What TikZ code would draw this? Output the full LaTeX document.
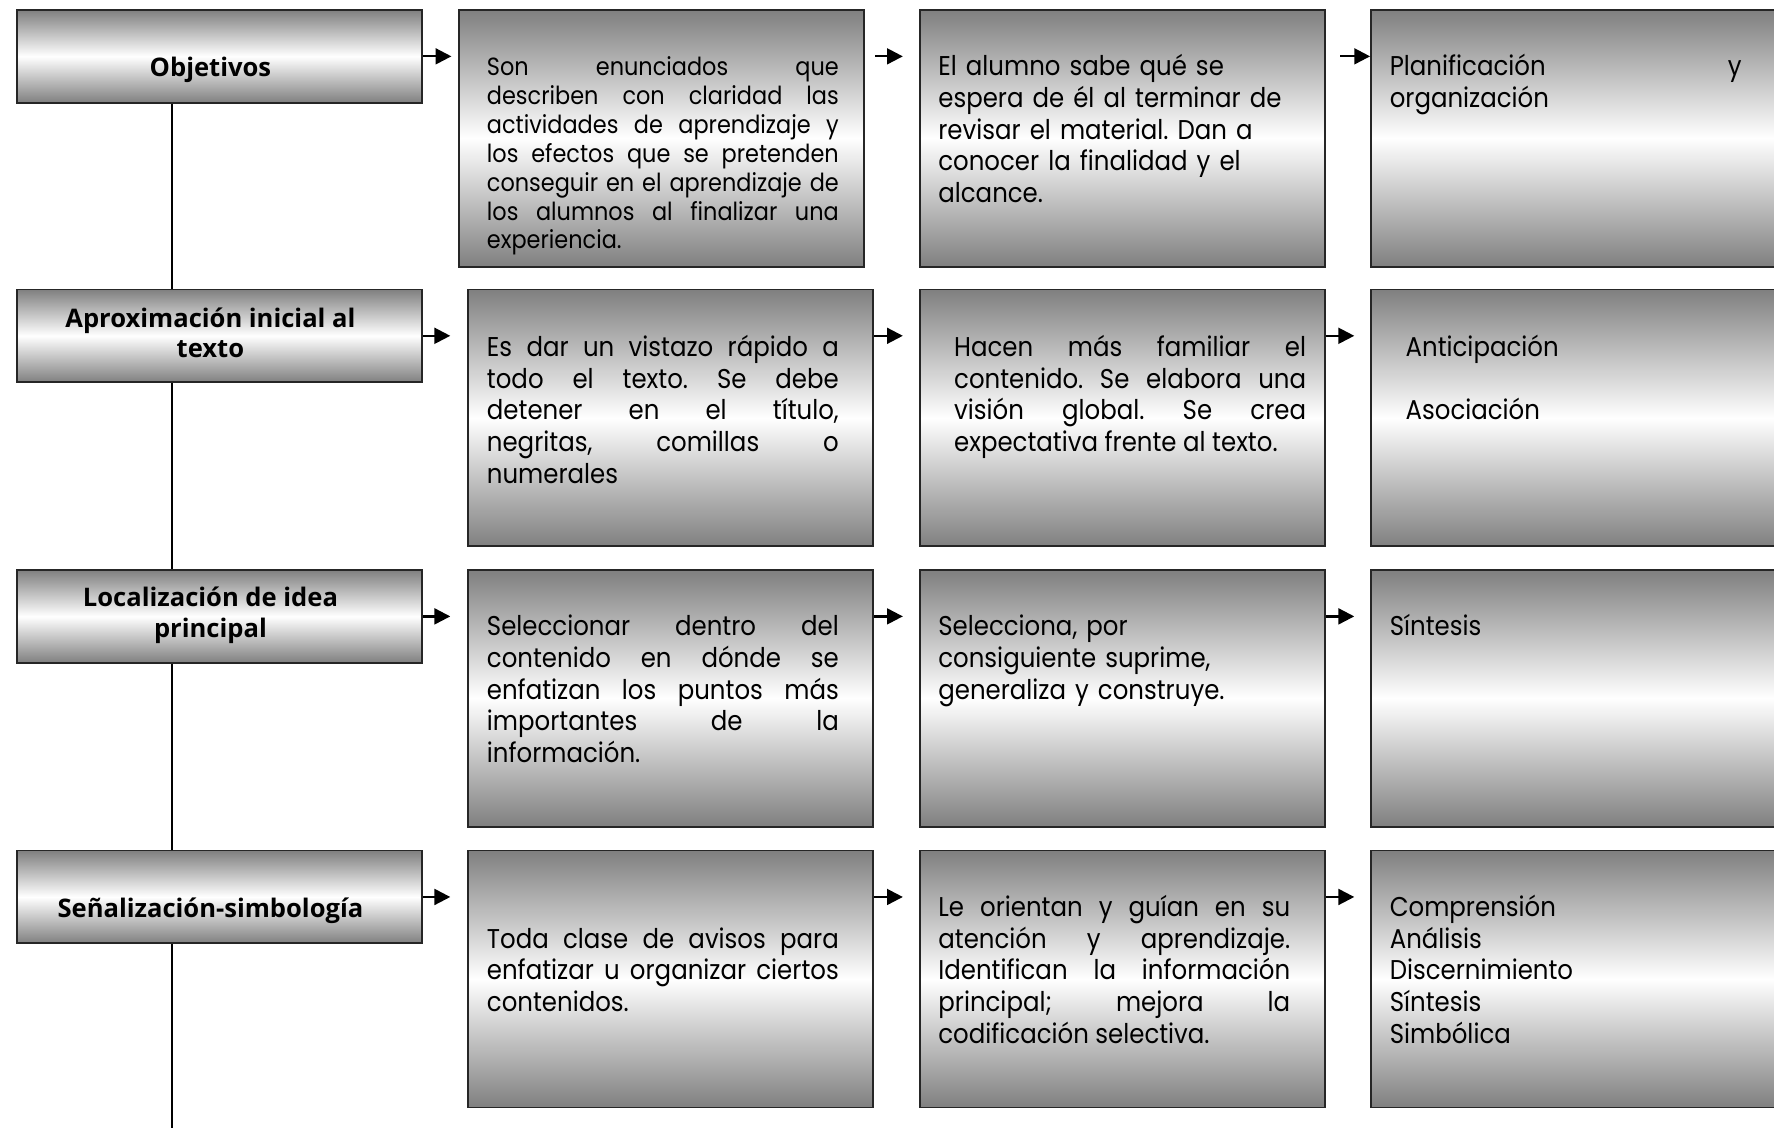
\documentclass[tikz,border=0pt]{standalone}
\usepackage{fontspec}
\setmainfont{Poppins}[FakeStretch=0.9]
\newfontfamily\headfont{Open Sans}
\usetikzlibrary{arrows.meta,positioning}
\tolerance=10000
\hbadness=10000
\hyphenpenalty=10000
\frenchspacing

\tikzset{
  caja/.style={draw=black!85, line width=0.8pt, rectangle, inner sep=0pt,
    top color=gray, bottom color=gray, middle color=white, minimum width=179pt},
  tema/.style={caja, minimum height=41pt, anchor=north west},
  desc/.style={caja, minimum height=113.5pt, anchor=north west},
  titulo/.style={font=\headfont\bfseries\fontsize{11.3}{13.5}\selectfont, align=center, inner sep=0pt},
  texto/.style={font=\fontsize{12}{14}\selectfont, anchor=base west, inner sep=0pt,
    text width=155.5pt, align=justify, yshift=-1pt},
  lista/.style={texto, text width=175pt, align=left},
  flecha/.style={-{Triangle[length=7pt,width=7pt]}, line width=1pt},
  eje/.style={line width=0.7pt}
}

\begin{document}
\begin{tikzpicture}[x=0.5pt,y=-0.5pt]
  \fill[white] (0,0) rectangle (1568,997);
  \clip (0,0) rectangle (1568,997);

  % columna de temas
  \node[tema] (obj) at (14,8) {};
  \node[tema] (apr) at (14,255) {};
  \node[tema] (loc) at (14,503) {};
  \node[tema] (sen) at (14,751) {};
  \coordinate (fin) at (152,997);

  \draw[eje] (obj.south -| fin) -- (apr.north -| fin);
  \draw[eje] (apr.south -| fin) -- (loc.north -| fin);
  \draw[eje] (loc.south -| fin) -- (sen.north -| fin);
  \draw[eje] (sen.south -| fin) -- (fin);

  \node[titulo] at (186,62) {Objetivos};
  \node[titulo] at (186,294) {Aproximación inicial al\\texto};
  \node[titulo] at (186,544) {Localización de idea\\principal};
  \node[titulo] at (186,805) {Señalización-simbología};

  % cajas de contenido
  \node[desc] (b1) at (405,8) {};
  \foreach \r/\y in {2/255,3/503,4/751}
    \node[desc] (b\r) at (413,\y) {};
  \foreach \r/\y in {1/8,2/255,3/503,4/751} {
    \node[desc] (c\r) at (812,\y) {};
    \node[desc, minimum width=190pt] (d\r) at (1211,\y) {};
  }

  % flechas
  \draw[flecha, shorten >=3pt] (obj.east) -- (b1.west |- obj.east);
  \draw[flecha, shorten <=4.5pt, shorten >=7pt] (b1.east |- obj.east) -- (c1.west |- obj.east);
  \draw[flecha, shorten <=6.5pt] (c1.east |- obj.east) -- (d1.west |- obj.east);
  \foreach \t/\r in {apr/2,loc/3,sen/4} {
    \draw[flecha, shorten >=7.5pt] (\t.east) -- (b\r.west |- \t.east);
    \draw[flecha, shorten >=7pt] (b\r.east |- \t.east) -- (c\r.west |- \t.east);
    \draw[flecha, shorten >=7pt] (c\r.east |- \t.east) -- (d\r.west |- \t.east);
  }

  % textos
  \node[texto, font=\fontsize{11}{12.75}\selectfont] at (430,65) {Son enunciados que\linebreak describen con claridad las\linebreak actividades de aprendizaje y\linebreak los efectos que se pretenden\linebreak conseguir en el aprendizaje de\linebreak los alumnos al finalizar una\linebreak experiencia.};
  \node[lista] at (829,65) {El alumno sabe qué se\\espera de él al terminar de\\revisar el material. Dan a\\conocer la finalidad y el\\alcance.};
  \node[texto] at (1228,65) {Planificación y\linebreak organización};

  \node[texto] at (430,313) {Es dar un vistazo rápido a\linebreak todo el texto. Se debe\linebreak detener en el título,\linebreak negritas, comillas o\linebreak numerales};
  \node[texto] at (843,313) {Hacen más familiar el\linebreak contenido. Se elabora una\linebreak visión global. Se crea\linebreak expectativa frente al texto.};
  \node[lista] at (1242,313) {Anticipación\\[14pt]Asociación};

  \node[texto] at (430,560) {Seleccionar dentro del\linebreak contenido en dónde se\linebreak enfatizan los puntos más\linebreak importantes de la\linebreak información.};
  \node[lista] at (829,560) {Selecciona, por\\consiguiente suprime,\\generaliza y construye.};
  \node[lista] at (1228,560) {Síntesis};

  \node[texto] at (430,836) {Toda clase de avisos para\linebreak enfatizar u organizar ciertos\linebreak contenidos.};
  \node[texto] at (829,808) {Le orientan y guían en su\linebreak atención y aprendizaje.\linebreak Identifican la información\linebreak principal; mejora la\linebreak codificación selectiva.};
  \node[lista] at (1228,808) {Comprensión\\Análisis\\Discernimiento\\Síntesis\\Simbólica};
\end{tikzpicture}
\end{document}
